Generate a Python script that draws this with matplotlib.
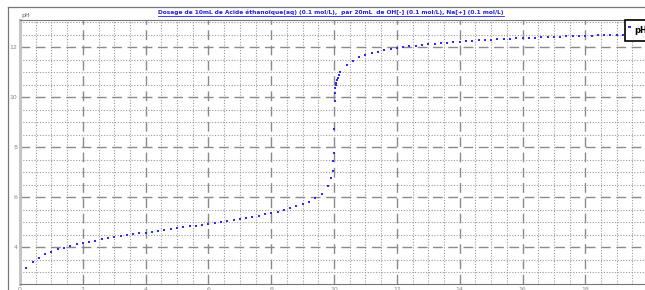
import matplotlib
matplotlib.use('Agg')
import matplotlib.pyplot as plt
from matplotlib.lines import Line2D
from matplotlib.ticker import MultipleLocator

# volume of base added (mL) and measured pH
volume = [
    0.0, 0.2, 0.4, 0.6, 0.8, 1.0, 1.2, 1.4, 1.6, 1.8,
    2.0, 2.2, 2.4, 2.6, 2.8, 3.0, 3.2, 3.4, 3.6, 3.8,
    4.0, 4.2, 4.4, 4.6, 4.8, 5.0, 5.2, 5.4, 5.6, 5.8,
    6.0, 6.2, 6.4, 6.6, 6.8, 7.0, 7.2, 7.4, 7.6, 7.8,
    8.0, 8.2, 8.4, 8.6, 8.8, 9.0, 9.2, 9.4, 9.6, 9.8,
    9.9, 9.95, 9.98, 9.99, 10.0,
    10.014, 10.03, 10.045, 10.06, 10.075, 10.095, 10.12, 10.15, 10.2,
    10.4, 10.6, 10.8, 11.0, 11.2, 11.4, 11.6, 11.8, 12.0,
    12.2, 12.4, 12.6, 12.8, 13.0, 13.2, 13.4, 13.6, 13.8, 14.0,
    14.2, 14.4, 14.6, 14.8, 15.0, 15.2, 15.4, 15.6, 15.8, 16.0,
    16.2, 16.4, 16.6, 16.8, 17.0, 17.2, 17.4, 17.6, 17.8, 18.0,
    18.2, 18.4, 18.6, 18.8, 19.0, 19.2, 19.4, 19.6, 19.8, 20.0,
]
ph = [
    2.88, 3.18, 3.42, 3.58, 3.71, 3.82, 3.91, 3.98, 4.05, 4.11,
    4.16, 4.21, 4.26, 4.31, 4.35, 4.39, 4.43, 4.47, 4.51, 4.55,
    4.58, 4.62, 4.66, 4.69, 4.73, 4.76, 4.79, 4.83, 4.86, 4.90,
    4.94, 4.97, 5.01, 5.05, 5.09, 5.13, 5.17, 5.21, 5.26, 5.31,
    5.36, 5.42, 5.48, 5.55, 5.63, 5.71, 5.82, 5.96, 6.14, 6.45,
    6.76, 7.06, 7.46, 7.76, 8.73,
    9.85, 10.17, 10.35, 10.47, 10.57, 10.68, 10.78, 10.88, 10.99,
    11.29, 11.46, 11.59, 11.68, 11.75, 11.82, 11.87, 11.92, 11.96,
    12.00, 12.03, 12.06, 12.09, 12.12, 12.14, 12.16, 12.18, 12.20, 12.22,
    12.24, 12.26, 12.27, 12.29, 12.30, 12.31, 12.33, 12.34, 12.35, 12.36,
    12.37, 12.38, 12.39, 12.40, 12.41, 12.42, 12.43, 12.44, 12.45, 12.46,
    12.46, 12.47, 12.48, 12.49, 12.49, 12.50, 12.50, 12.51, 12.52, 12.52,
]

x_ticks = [0, 2, 4, 6, 8, 10, 12, 14, 16, 18]
y_ticks = [4, 6, 8, 10, 12]
title = ("Dosage de 10mL de Acide éthanoïque(aq) (0.1 mol/L),  par 20mL  de OH[-] "
         "(0.1 mol/L), Na[+] (0.1 mol/L)")

W, H = 645, 290
fig = plt.figure(figsize=(W / 100, H / 100), dpi=100)
ax = fig.add_axes([20 / W, 6 / H, 1 - 20 / W, 264 / H])

ax.plot(volume, ph, linestyle='none', marker='s', markersize=1.6,
        color='#2a2aff', markeredgewidth=0, label='pH')

ax.set_xlim(0, 19.9)
ax.set_ylim(2.52, 13.08)
ax.set_xticks(x_ticks)
ax.set_yticks(y_ticks)
ax.xaxis.set_minor_locator(MultipleLocator(0.5))
ax.yaxis.set_minor_locator(MultipleLocator(0.5))
ax.grid(which='major', color='#8a8a8a', linestyle=(0, (7, 4)), linewidth=1.0)
ax.grid(which='minor', color='#9a9a9a', linestyle=(0, (1, 1.5)), linewidth=0.8)
ax.set_axisbelow(True)
ax.tick_params(which='both', length=0, labelsize=4.5, labelcolor='#888888', pad=2)

ax.spines['left'].set_color('#c4c4c4')
ax.spines['left'].set_linewidth(2.2)
ax.spines['bottom'].set_color('#777777')
ax.spines['top'].set_color('#777777')
ax.spines['right'].set_visible(False)

# axis name at the top-left
fig.text(21 / W, 1 - 15 / H, 'pH', fontsize=4.5, color='#555555', va='center', ha='left')

# title, blue, bold, underlined
t = fig.text(331 / W, 1 - 12.5 / H, title, fontsize=4.2, fontweight='bold',
             color='#2020e0', ha='center', va='center')
fig.canvas.draw()
bb = t.get_window_extent()
fig.add_artist(Line2D([bb.x0 / W, bb.x1 / W], [(bb.y0 - 0.3) / H, (bb.y0 - 0.3) / H],
                      color='#2020e0', linewidth=0.6))

# outer frame of the panel
fig.add_artist(Line2D([8 / W, 1], [1 - 7 / H, 1 - 7 / H], color='#777777', linewidth=0.9))
fig.add_artist(Line2D([8 / W, 8 / W], [0, 1 - 7 / H], color='#777777', linewidth=0.9))

leg = ax.legend(loc='upper left', bbox_to_anchor=(605 / 625, 1.0), numpoints=2,
                markerscale=1.2, handlelength=0.7, handleheight=2.9, handletextpad=0.25,
                borderpad=0.2, borderaxespad=0, fancybox=False, framealpha=1,
                edgecolor='black', prop={'size': 6, 'weight': 'bold'})
leg.get_frame().set_linewidth(1.2)

fig.savefig('out.png', dpi=100)
